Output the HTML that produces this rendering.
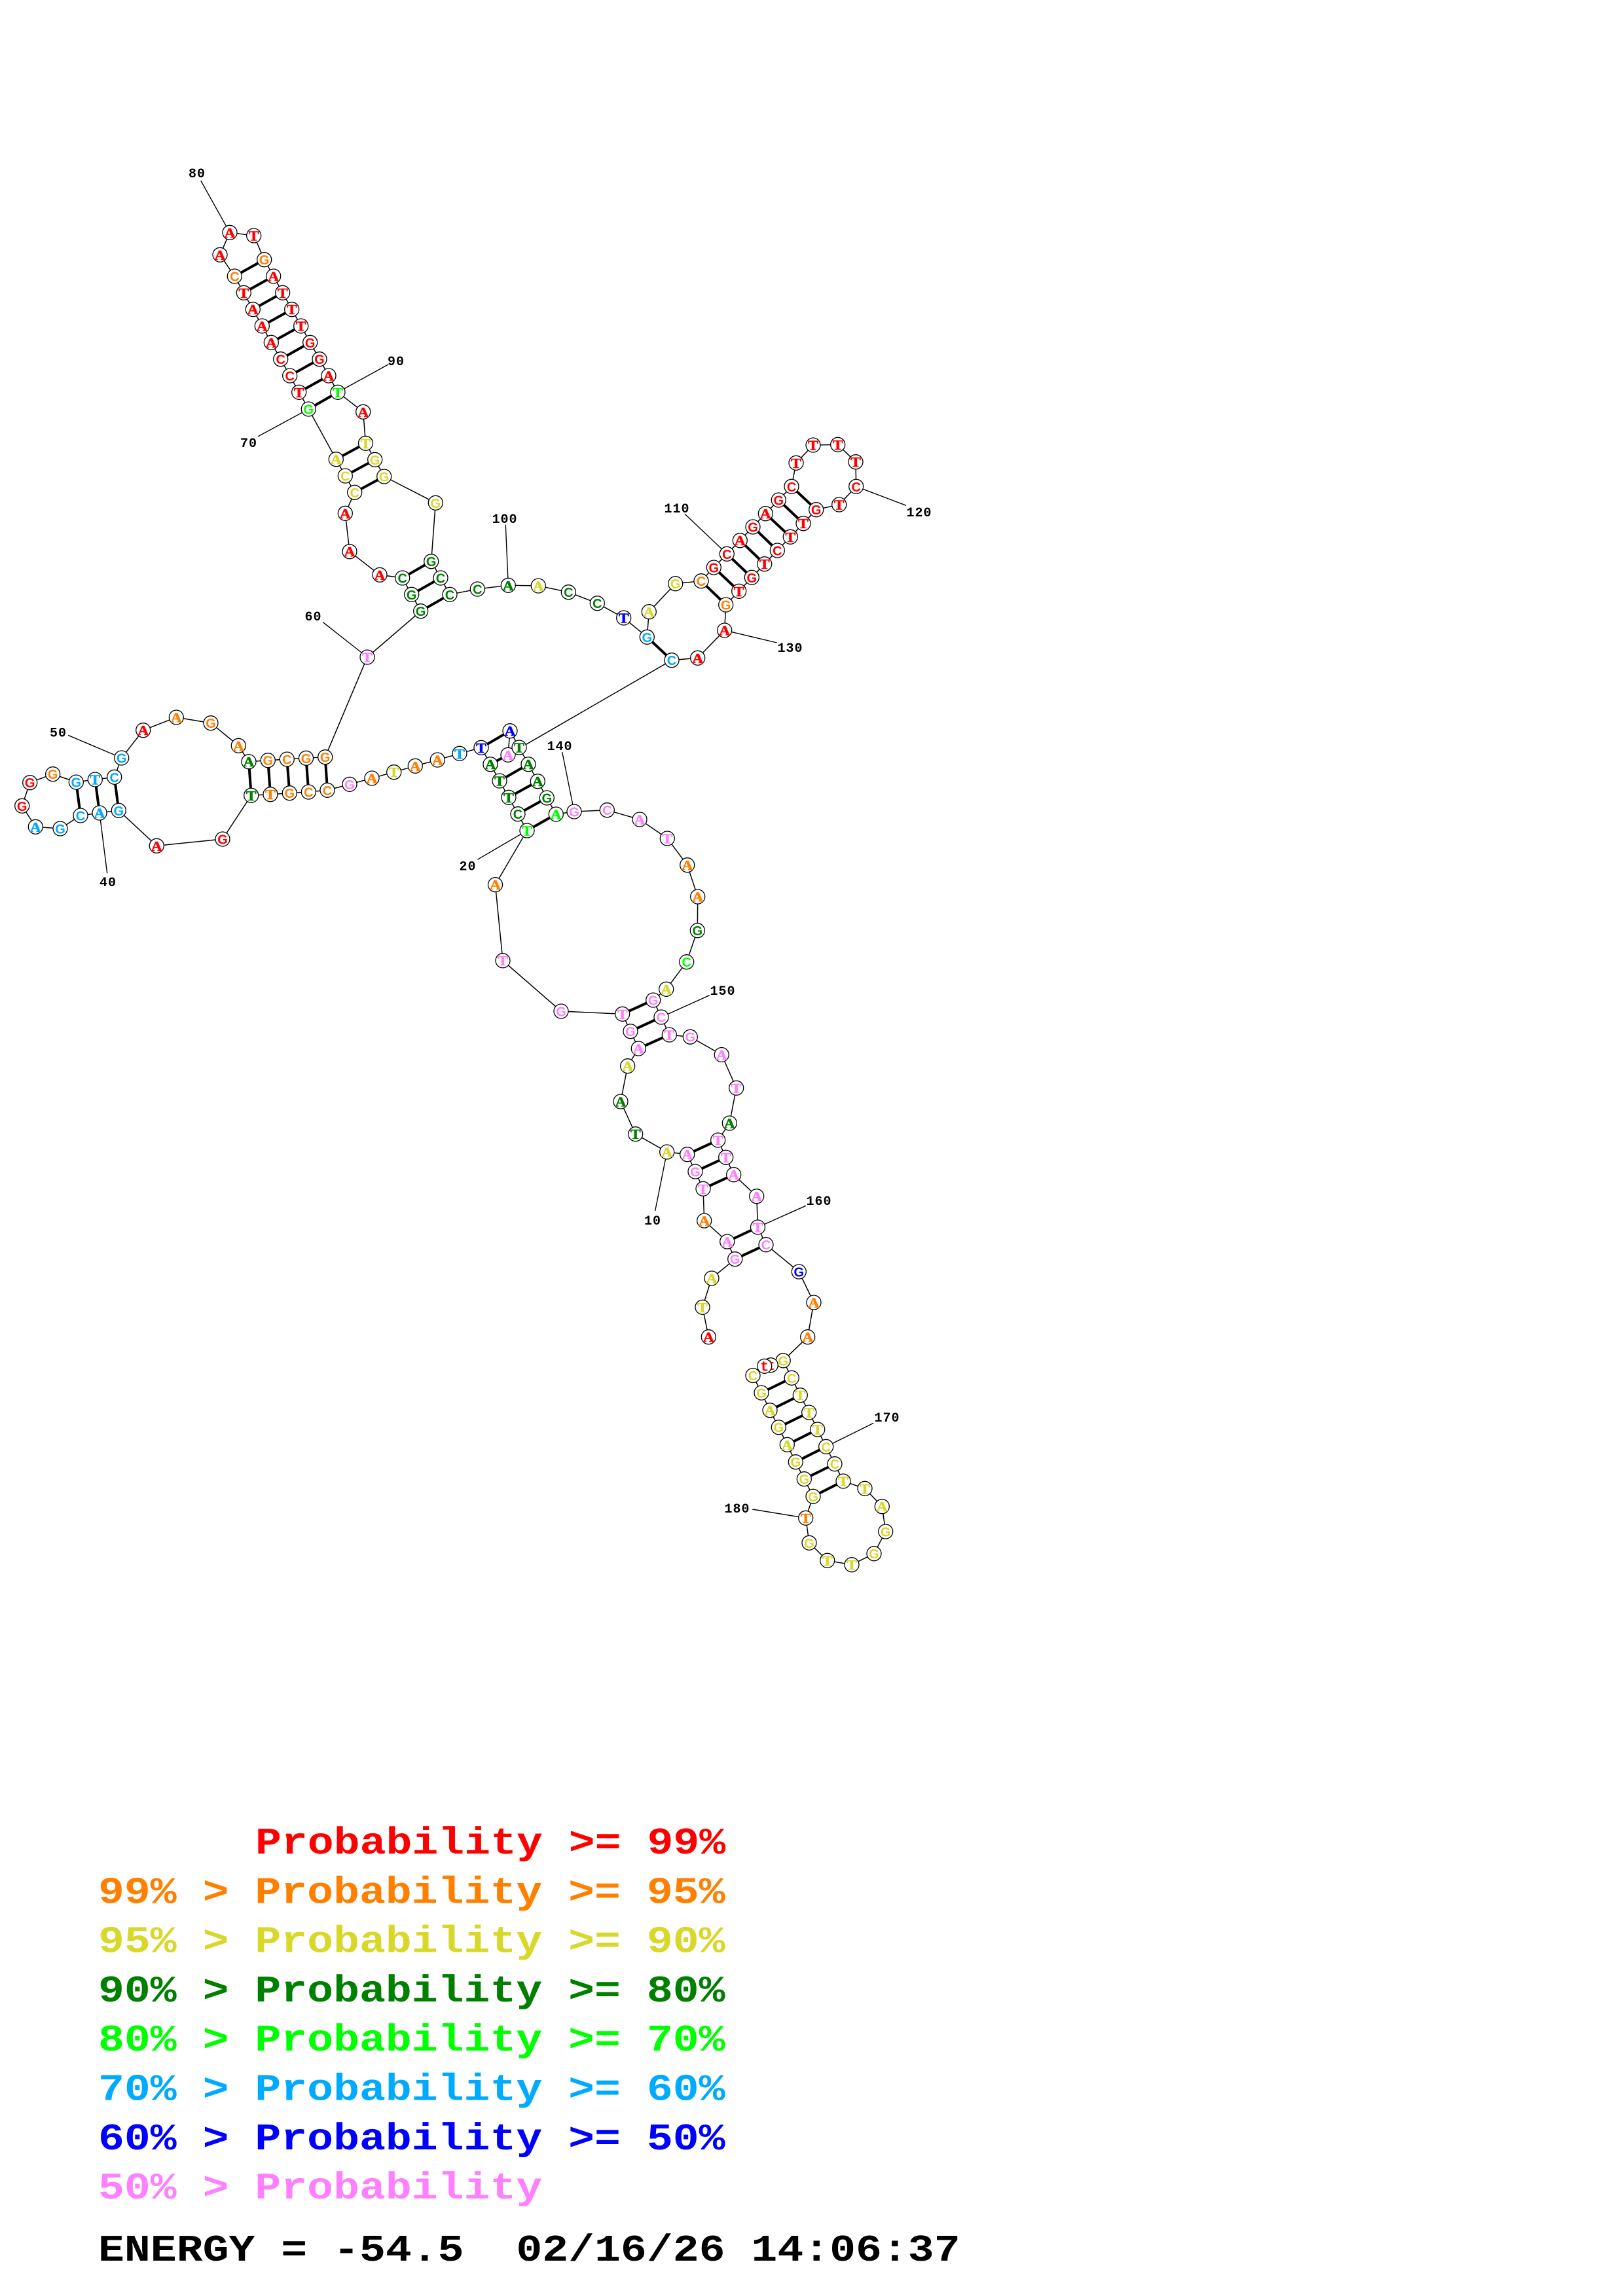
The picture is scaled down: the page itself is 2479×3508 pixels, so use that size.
<!DOCTYPE html>
<html><head><meta charset="utf-8"><title>RNA structure</title>
<style>
html,body{margin:0;padding:0;background:#fff}
svg{display:block}
circle{fill:#fff;stroke:#000;stroke-width:1.3}
.n text,text.l{text-anchor:middle}
.n text{font:bold 21px "Liberation Serif",serif;stroke-width:.6;transform-box:fill-box;transform-origin:center;transform:scaleX(1.12)}
.n text.k{font:bold 20px "Liberation Sans",sans-serif;stroke-width:0;transform:none}
.n text.t{font:bold 22px "Liberation Mono",monospace;stroke-width:0;transform:none}
.r{fill:#f00;stroke:#f00}.o{fill:#ff8000;stroke:#ff8000}.y{fill:#d8d82a;stroke:#d8d82a}.d{fill:#008000;stroke:#008000}.g{fill:#0f0;stroke:#0f0}.n2{fill:#0af;stroke:#0af}.b{fill:#00f;stroke:#00f}.p{fill:#ff80ff;stroke:#ff80ff}.z{fill:#000;stroke:#000}
text.l{font:bold 20px "Liberation Mono",monospace;letter-spacing:1px;fill:#000}
.m text{font:bold 66.5px "Liberation Mono",monospace;white-space:pre;stroke-width:0}
</style></head><body>
<svg xmlns="http://www.w3.org/2000/svg" width="2479" height="3508" viewBox="0 0 2479 3508">
<rect width="2479" height="3508" fill="#fff"/>
<polyline fill="none" stroke="#000" stroke-width="1.5" points="1082.3,2042.7 1073,1997.3 1087,1953 1122.7,1923.7 1110.7,1897 1075.7,1865 1074,1816.3 1062,1790 1049.7,1763.7 1018.7,1760 970.7,1732.7 948,1683 958.7,1628.7 975.3,1602 963,1575.7 950.7,1549.3 857,1545 768,1467.7 756.5,1351.7 805,1269 791,1243.7 777,1218.3 763,1193 749,1167.7 735,1142.3 702,1151.3 668.3,1161 634.3,1170.3 601.7,1179.7 568,1189 534,1198.3 500,1207.3 471.3,1210 442.3,1211.7 413,1213.7 383.7,1215.3 340,1282 239.3,1292.3 181.3,1238.3 152,1242 123,1246 92,1266 54.3,1263.3 33.7,1231.3 45.7,1195.7 80.7,1182.7 116.3,1195 145.3,1191 174.7,1187.3 185.7,1158 218.7,1115.7 269.3,1096 322,1104.7 364.3,1139.3 380,1163.7 409.3,1161.7 438.3,1160 467.5,1158.3 496.7,1156.7 561,1004 642.7,933.7 628.7,908.3 614.7,883 580,878.3 534,842.7 527.3,784.3 541.7,752.3 527.3,727 513.3,701.7 471.3,625 456.7,599.3 442.7,574 428.7,548.7 414.3,523.3 400.3,498 386.3,472.7 372.3,447.3 358.3,422 336,389.3 351,355.3 387.7,360 403.7,396.7 417.7,422 431.7,447.3 445.7,472.7 459.7,498 473.7,523.3 488,548.7 502,574 516,599.3 554.7,629.3 558.5,677.3 572.7,702.3 586.7,728 665.3,768.3 658.7,857.7 673,883 687,908.3 729.3,900 776.3,894.3 822.3,895 868.3,904.7 912.3,921.7 952.7,944 988.3,973.3 991.3,934.7 1031.7,891.7 1071,887.7 1090.3,867 1110.3,846.3 1130.3,825.7 1150,805 1169.3,784.7 1189.3,764 1209,743.3 1216,707.3 1242,680 1279.7,679.3 1307,705.7 1307.7,743.3 1281.7,771 1246.7,778.7 1227,799.7 1207.3,820.3 1187.3,841 1167.7,861.7 1148.3,882.3 1128.7,903.3 1108.7,924 1106.7,963 1065.7,1005.3 1026,1008.7 776,1153.3 779,1116.7 793,1142 807,1167.7 821.3,1193.7 835.3,1219 849.3,1244 877,1240 927.3,1237.7 977,1252 1019.3,1281 1049.7,1321.7 1065.7,1370 1065.3,1421.7 1048.7,1469.7 1017.7,1511.3 997.7,1528 1010,1554 1022.3,1581 1054.3,1584.2 1102.2,1611.5 1124.7,1662.3 1114.3,1716 1096.7,1742 1108.7,1768.3 1120.7,1794.7 1155.7,1827.7 1157.5,1875 1170,1901.7 1220.3,1943 1243,1990 1233.7,2042.7 1196.2,2078.8 1209.2,2105.3 1222.3,2131.7 1235.7,2158 1248.7,2184 1261.7,2210.3 1275,2236.7 1288,2263 1321,2274.3 1347.3,2301.7 1352.7,2340 1335,2373.7 1301,2390.7 1263.7,2384.3 1236,2357.3 1230.7,2319.3 1242,2286.3 1228.3,2259.7 1215.3,2233.7 1202.3,2207.3 1189.3,2180.7 1176,2154.7 1163,2128 1150,2101.5 1177.3,2085.7 1167.7,2087.3"/>
<path fill="none" stroke="#000" stroke-width="4" d="M1122.7 1923.7L1170 1901.7M1110.7 1897L1157.5 1875M1074 1816.3L1120.7 1794.7M1062 1790L1108.7 1768.3M1049.7 1763.7L1096.7 1742M975.3 1602L1022.3 1581M963 1575.7L1010 1554M950.7 1549.3L997.7 1528M805 1269L849.3 1244M791 1243.7L835.3 1219M777 1218.3L821.3 1193.7M763 1193L807 1167.7M749 1167.7L776 1153.3M735 1142.3L779 1116.7M500 1207.3L496.7 1156.7M471.3 1210L467.5 1158.3M442.3 1211.7L438.3 1160M413 1213.7L409.3 1161.7M383.7 1215.3L380 1163.7M181.3 1238.3L174.7 1187.3M152 1242L145.3 1191M123 1246L116.3 1195M642.7 933.7L687 908.3M628.7 908.3L673 883M614.7 883L658.7 857.7M541.7 752.3L586.7 728M527.3 727L572.7 702.3M513.3 701.7L558.5 677.3M471.3 625L516 599.3M456.7 599.3L502 574M442.7 574L488 548.7M428.7 548.7L473.7 523.3M414.3 523.3L459.7 498M400.3 498L445.7 472.7M386.3 472.7L431.7 447.3M372.3 447.3L417.7 422M358.3 422L403.7 396.7M988.3 973.3L1026 1008.7M1071 887.7L1108.7 924M1090.3 867L1128.7 903.3M1110.3 846.3L1148.3 882.3M1130.3 825.7L1167.7 861.7M1150 805L1187.3 841M1169.3 784.7L1207.3 820.3M1189.3 764L1227 799.7M1209 743.3L1246.7 778.7M1209.2 2105.3L1163 2128M1222.3 2131.7L1176 2154.7M1235.7 2158L1189.3 2180.7M1248.7 2184L1202.3 2207.3M1261.7 2210.3L1215.3 2233.7M1275 2236.7L1228.3 2259.7M1288 2263L1242 2286.3"/>
<path fill="none" stroke="#000" stroke-width="1.4" d="M306.7 276L351 355.3M593.3 556.7L516 599.3M394.3 666.7L471.3 625M493.3 950.7L561 1004M772.3 801.7L776.3 894.3M1046 785.3L1110.3 846.3M1384 772.3L1307.7 743.3M1186.7 982L1106.7 963M104 1123.3L185.7 1158M163.7 1334.3L152 1242M729.3 1313.3L805 1269M858.7 1149L877 1240M1083.7 1520.7L1010 1554M1000.7 1850L1018.7 1760M1230.7 1842.3L1157.5 1875M1334.3 2174.3L1261.7 2210.3M1149.3 2306L1230.7 2319.3"/>
<g class="n">
<circle cx="1082.3" cy="2042.7" r="11"/><text x="1082.3" y="2050.2" class="r">A</text>
<circle cx="1073" cy="1997.3" r="11"/><text x="1073" y="2004.8" class="y">T</text>
<circle cx="1087" cy="1953" r="11"/><text x="1087" y="1960.5" class="y">A</text>
<circle cx="1122.7" cy="1923.7" r="11"/><text x="1122.7" y="1931.2" class="p k">G</text>
<circle cx="1110.7" cy="1897" r="11"/><text x="1110.7" y="1904.5" class="p">A</text>
<circle cx="1075.7" cy="1865" r="11"/><text x="1075.7" y="1872.5" class="o">A</text>
<circle cx="1074" cy="1816.3" r="11"/><text x="1074" y="1823.8" class="p">T</text>
<circle cx="1062" cy="1790" r="11"/><text x="1062" y="1797.5" class="p k">G</text>
<circle cx="1049.7" cy="1763.7" r="11"/><text x="1049.7" y="1771.2" class="p">A</text>
<circle cx="1018.7" cy="1760" r="11"/><text x="1018.7" y="1767.5" class="y">A</text>
<circle cx="970.7" cy="1732.7" r="11"/><text x="970.7" y="1740.2" class="d">T</text>
<circle cx="948" cy="1683" r="11"/><text x="948" y="1690.5" class="d">A</text>
<circle cx="958.7" cy="1628.7" r="11"/><text x="958.7" y="1636.2" class="y">A</text>
<circle cx="975.3" cy="1602" r="11"/><text x="975.3" y="1609.5" class="p">A</text>
<circle cx="963" cy="1575.7" r="11"/><text x="963" y="1583.2" class="p k">G</text>
<circle cx="950.7" cy="1549.3" r="11"/><text x="950.7" y="1556.8" class="p">T</text>
<circle cx="857" cy="1545" r="11"/><text x="857" y="1552.5" class="p k">G</text>
<circle cx="768" cy="1467.7" r="11"/><text x="768" y="1475.2" class="p">T</text>
<circle cx="756.5" cy="1351.7" r="11"/><text x="756.5" y="1359.2" class="o">A</text>
<circle cx="805" cy="1269" r="11"/><text x="805" y="1276.5" class="g">T</text>
<circle cx="791" cy="1243.7" r="11"/><text x="791" y="1251.2" class="d k">C</text>
<circle cx="777" cy="1218.3" r="11"/><text x="777" y="1225.8" class="d">T</text>
<circle cx="763" cy="1193" r="11"/><text x="763" y="1200.5" class="d">T</text>
<circle cx="749" cy="1167.7" r="11"/><text x="749" y="1175.2" class="d">A</text>
<circle cx="735" cy="1142.3" r="11"/><text x="735" y="1149.8" class="b">T</text>
<circle cx="702" cy="1151.3" r="11"/><text x="702" y="1158.8" class="n2">T</text>
<circle cx="668.3" cy="1161" r="11"/><text x="668.3" y="1168.5" class="o">A</text>
<circle cx="634.3" cy="1170.3" r="11"/><text x="634.3" y="1177.8" class="o">A</text>
<circle cx="601.7" cy="1179.7" r="11"/><text x="601.7" y="1187.2" class="y">T</text>
<circle cx="568" cy="1189" r="11"/><text x="568" y="1196.5" class="o">A</text>
<circle cx="534" cy="1198.3" r="11"/><text x="534" y="1205.8" class="p k">G</text>
<circle cx="500" cy="1207.3" r="11"/><text x="500" y="1214.8" class="o k">C</text>
<circle cx="471.3" cy="1210" r="11"/><text x="471.3" y="1217.5" class="o k">C</text>
<circle cx="442.3" cy="1211.7" r="11"/><text x="442.3" y="1219.2" class="o k">G</text>
<circle cx="413" cy="1213.7" r="11"/><text x="413" y="1221.2" class="o">T</text>
<circle cx="383.7" cy="1215.3" r="11"/><text x="383.7" y="1222.8" class="d">T</text>
<circle cx="340" cy="1282" r="11"/><text x="340" y="1289.5" class="r k">G</text>
<circle cx="239.3" cy="1292.3" r="11"/><text x="239.3" y="1299.8" class="r">A</text>
<circle cx="181.3" cy="1238.3" r="11"/><text x="181.3" y="1245.8" class="n2 k">G</text>
<circle cx="152" cy="1242" r="11"/><text x="152" y="1249.5" class="n2">A</text>
<circle cx="123" cy="1246" r="11"/><text x="123" y="1253.5" class="n2 k">C</text>
<circle cx="92" cy="1266" r="11"/><text x="92" y="1273.5" class="n2 k">G</text>
<circle cx="54.3" cy="1263.3" r="11"/><text x="54.3" y="1270.8" class="n2">A</text>
<circle cx="33.7" cy="1231.3" r="11"/><text x="33.7" y="1238.8" class="r k">G</text>
<circle cx="45.7" cy="1195.7" r="11"/><text x="45.7" y="1203.2" class="r k">G</text>
<circle cx="80.7" cy="1182.7" r="11"/><text x="80.7" y="1190.2" class="o k">G</text>
<circle cx="116.3" cy="1195" r="11"/><text x="116.3" y="1202.5" class="n2 k">G</text>
<circle cx="145.3" cy="1191" r="11"/><text x="145.3" y="1198.5" class="n2">T</text>
<circle cx="174.7" cy="1187.3" r="11"/><text x="174.7" y="1194.8" class="n2 k">C</text>
<circle cx="185.7" cy="1158" r="11"/><text x="185.7" y="1165.5" class="n2 k">G</text>
<circle cx="218.7" cy="1115.7" r="11"/><text x="218.7" y="1123.2" class="r">A</text>
<circle cx="269.3" cy="1096" r="11"/><text x="269.3" y="1103.5" class="o">A</text>
<circle cx="322" cy="1104.7" r="11"/><text x="322" y="1112.2" class="o k">G</text>
<circle cx="364.3" cy="1139.3" r="11"/><text x="364.3" y="1146.8" class="o">A</text>
<circle cx="380" cy="1163.7" r="11"/><text x="380" y="1171.2" class="d">A</text>
<circle cx="409.3" cy="1161.7" r="11"/><text x="409.3" y="1169.2" class="o k">G</text>
<circle cx="438.3" cy="1160" r="11"/><text x="438.3" y="1167.5" class="o k">C</text>
<circle cx="467.5" cy="1158.3" r="11"/><text x="467.5" y="1165.8" class="o k">G</text>
<circle cx="496.7" cy="1156.7" r="11"/><text x="496.7" y="1164.2" class="o k">G</text>
<circle cx="561" cy="1004" r="11"/><text x="561" y="1011.5" class="p">T</text>
<circle cx="642.7" cy="933.7" r="11"/><text x="642.7" y="941.2" class="d k">G</text>
<circle cx="628.7" cy="908.3" r="11"/><text x="628.7" y="915.8" class="d k">G</text>
<circle cx="614.7" cy="883" r="11"/><text x="614.7" y="890.5" class="d k">C</text>
<circle cx="580" cy="878.3" r="11"/><text x="580" y="885.8" class="r">A</text>
<circle cx="534" cy="842.7" r="11"/><text x="534" y="850.2" class="r">A</text>
<circle cx="527.3" cy="784.3" r="11"/><text x="527.3" y="791.8" class="r">A</text>
<circle cx="541.7" cy="752.3" r="11"/><text x="541.7" y="759.8" class="y k">C</text>
<circle cx="527.3" cy="727" r="11"/><text x="527.3" y="734.5" class="y k">C</text>
<circle cx="513.3" cy="701.7" r="11"/><text x="513.3" y="709.2" class="y">A</text>
<circle cx="471.3" cy="625" r="11"/><text x="471.3" y="632.5" class="g k">G</text>
<circle cx="456.7" cy="599.3" r="11"/><text x="456.7" y="606.8" class="r">T</text>
<circle cx="442.7" cy="574" r="11"/><text x="442.7" y="581.5" class="r k">C</text>
<circle cx="428.7" cy="548.7" r="11"/><text x="428.7" y="556.2" class="r k">C</text>
<circle cx="414.3" cy="523.3" r="11"/><text x="414.3" y="530.8" class="r">A</text>
<circle cx="400.3" cy="498" r="11"/><text x="400.3" y="505.5" class="r">A</text>
<circle cx="386.3" cy="472.7" r="11"/><text x="386.3" y="480.2" class="r">A</text>
<circle cx="372.3" cy="447.3" r="11"/><text x="372.3" y="454.8" class="r">T</text>
<circle cx="358.3" cy="422" r="11"/><text x="358.3" y="429.5" class="o k">C</text>
<circle cx="336" cy="389.3" r="11"/><text x="336" y="396.8" class="r">A</text>
<circle cx="351" cy="355.3" r="11"/><text x="351" y="362.8" class="r">A</text>
<circle cx="387.7" cy="360" r="11"/><text x="387.7" y="367.5" class="r">T</text>
<circle cx="403.7" cy="396.7" r="11"/><text x="403.7" y="404.2" class="o k">G</text>
<circle cx="417.7" cy="422" r="11"/><text x="417.7" y="429.5" class="r">A</text>
<circle cx="431.7" cy="447.3" r="11"/><text x="431.7" y="454.8" class="r">T</text>
<circle cx="445.7" cy="472.7" r="11"/><text x="445.7" y="480.2" class="r">T</text>
<circle cx="459.7" cy="498" r="11"/><text x="459.7" y="505.5" class="r">T</text>
<circle cx="473.7" cy="523.3" r="11"/><text x="473.7" y="530.8" class="r k">G</text>
<circle cx="488" cy="548.7" r="11"/><text x="488" y="556.2" class="r k">G</text>
<circle cx="502" cy="574" r="11"/><text x="502" y="581.5" class="r">A</text>
<circle cx="516" cy="599.3" r="11"/><text x="516" y="606.8" class="g">T</text>
<circle cx="554.7" cy="629.3" r="11"/><text x="554.7" y="636.8" class="r">A</text>
<circle cx="558.5" cy="677.3" r="11"/><text x="558.5" y="684.8" class="y">T</text>
<circle cx="572.7" cy="702.3" r="11"/><text x="572.7" y="709.8" class="y k">G</text>
<circle cx="586.7" cy="728" r="11"/><text x="586.7" y="735.5" class="y k">G</text>
<circle cx="665.3" cy="768.3" r="11"/><text x="665.3" y="775.8" class="y k">G</text>
<circle cx="658.7" cy="857.7" r="11"/><text x="658.7" y="865.2" class="d k">G</text>
<circle cx="673" cy="883" r="11"/><text x="673" y="890.5" class="d k">C</text>
<circle cx="687" cy="908.3" r="11"/><text x="687" y="915.8" class="d k">C</text>
<circle cx="729.3" cy="900" r="11"/><text x="729.3" y="907.5" class="d k">C</text>
<circle cx="776.3" cy="894.3" r="11"/><text x="776.3" y="901.8" class="d">A</text>
<circle cx="822.3" cy="895" r="11"/><text x="822.3" y="902.5" class="y">A</text>
<circle cx="868.3" cy="904.7" r="11"/><text x="868.3" y="912.2" class="d k">C</text>
<circle cx="912.3" cy="921.7" r="11"/><text x="912.3" y="929.2" class="d k">C</text>
<circle cx="952.7" cy="944" r="11"/><text x="952.7" y="951.5" class="b">T</text>
<circle cx="988.3" cy="973.3" r="11"/><text x="988.3" y="980.8" class="n2 k">G</text>
<circle cx="991.3" cy="934.7" r="11"/><text x="991.3" y="942.2" class="y">A</text>
<circle cx="1031.7" cy="891.7" r="11"/><text x="1031.7" y="899.2" class="y k">G</text>
<circle cx="1071" cy="887.7" r="11"/><text x="1071" y="895.2" class="o k">C</text>
<circle cx="1090.3" cy="867" r="11"/><text x="1090.3" y="874.5" class="r k">G</text>
<circle cx="1110.3" cy="846.3" r="11"/><text x="1110.3" y="853.8" class="r k">C</text>
<circle cx="1130.3" cy="825.7" r="11"/><text x="1130.3" y="833.2" class="r">A</text>
<circle cx="1150" cy="805" r="11"/><text x="1150" y="812.5" class="r k">G</text>
<circle cx="1169.3" cy="784.7" r="11"/><text x="1169.3" y="792.2" class="r">A</text>
<circle cx="1189.3" cy="764" r="11"/><text x="1189.3" y="771.5" class="r k">G</text>
<circle cx="1209" cy="743.3" r="11"/><text x="1209" y="750.8" class="r k">C</text>
<circle cx="1216" cy="707.3" r="11"/><text x="1216" y="714.8" class="r">T</text>
<circle cx="1242" cy="680" r="11"/><text x="1242" y="687.5" class="r">T</text>
<circle cx="1279.7" cy="679.3" r="11"/><text x="1279.7" y="686.8" class="r">T</text>
<circle cx="1307" cy="705.7" r="11"/><text x="1307" y="713.2" class="r">T</text>
<circle cx="1307.7" cy="743.3" r="11"/><text x="1307.7" y="750.8" class="r k">C</text>
<circle cx="1281.7" cy="771" r="11"/><text x="1281.7" y="778.5" class="r">T</text>
<circle cx="1246.7" cy="778.7" r="11"/><text x="1246.7" y="786.2" class="r k">G</text>
<circle cx="1227" cy="799.7" r="11"/><text x="1227" y="807.2" class="r">T</text>
<circle cx="1207.3" cy="820.3" r="11"/><text x="1207.3" y="827.8" class="r">T</text>
<circle cx="1187.3" cy="841" r="11"/><text x="1187.3" y="848.5" class="r k">C</text>
<circle cx="1167.7" cy="861.7" r="11"/><text x="1167.7" y="869.2" class="r">T</text>
<circle cx="1148.3" cy="882.3" r="11"/><text x="1148.3" y="889.8" class="r k">G</text>
<circle cx="1128.7" cy="903.3" r="11"/><text x="1128.7" y="910.8" class="r">T</text>
<circle cx="1108.7" cy="924" r="11"/><text x="1108.7" y="931.5" class="o k">G</text>
<circle cx="1106.7" cy="963" r="11"/><text x="1106.7" y="970.5" class="r">A</text>
<circle cx="1065.7" cy="1005.3" r="11"/><text x="1065.7" y="1012.8" class="r">A</text>
<circle cx="1026" cy="1008.7" r="11"/><text x="1026" y="1016.2" class="n2 k">C</text>
<circle cx="776" cy="1153.3" r="11"/><text x="776" y="1160.8" class="p">A</text>
<circle cx="779" cy="1116.7" r="11"/><text x="779" y="1124.2" class="b">A</text>
<circle cx="793" cy="1142" r="11"/><text x="793" y="1149.5" class="d">T</text>
<circle cx="807" cy="1167.7" r="11"/><text x="807" y="1175.2" class="d">A</text>
<circle cx="821.3" cy="1193.7" r="11"/><text x="821.3" y="1201.2" class="d">A</text>
<circle cx="835.3" cy="1219" r="11"/><text x="835.3" y="1226.5" class="d k">G</text>
<circle cx="849.3" cy="1244" r="11"/><text x="849.3" y="1251.5" class="g">A</text>
<circle cx="877" cy="1240" r="11"/><text x="877" y="1247.5" class="p k">G</text>
<circle cx="927.3" cy="1237.7" r="11"/><text x="927.3" y="1245.2" class="p k">C</text>
<circle cx="977" cy="1252" r="11"/><text x="977" y="1259.5" class="p">A</text>
<circle cx="1019.3" cy="1281" r="11"/><text x="1019.3" y="1288.5" class="p">T</text>
<circle cx="1049.7" cy="1321.7" r="11"/><text x="1049.7" y="1329.2" class="o">A</text>
<circle cx="1065.7" cy="1370" r="11"/><text x="1065.7" y="1377.5" class="o">A</text>
<circle cx="1065.3" cy="1421.7" r="11"/><text x="1065.3" y="1429.2" class="d k">G</text>
<circle cx="1048.7" cy="1469.7" r="11"/><text x="1048.7" y="1477.2" class="g k">C</text>
<circle cx="1017.7" cy="1511.3" r="11"/><text x="1017.7" y="1518.8" class="y">A</text>
<circle cx="997.7" cy="1528" r="11"/><text x="997.7" y="1535.5" class="p k">G</text>
<circle cx="1010" cy="1554" r="11"/><text x="1010" y="1561.5" class="p k">C</text>
<circle cx="1022.3" cy="1581" r="11"/><text x="1022.3" y="1588.5" class="p">T</text>
<circle cx="1054.3" cy="1584.2" r="11"/><text x="1054.3" y="1591.7" class="p k">G</text>
<circle cx="1102.2" cy="1611.5" r="11"/><text x="1102.2" y="1619" class="p">A</text>
<circle cx="1124.7" cy="1662.3" r="11"/><text x="1124.7" y="1669.8" class="p">T</text>
<circle cx="1114.3" cy="1716" r="11"/><text x="1114.3" y="1723.5" class="d">A</text>
<circle cx="1096.7" cy="1742" r="11"/><text x="1096.7" y="1749.5" class="p">T</text>
<circle cx="1108.7" cy="1768.3" r="11"/><text x="1108.7" y="1775.8" class="p">T</text>
<circle cx="1120.7" cy="1794.7" r="11"/><text x="1120.7" y="1802.2" class="p">A</text>
<circle cx="1155.7" cy="1827.7" r="11"/><text x="1155.7" y="1835.2" class="p">A</text>
<circle cx="1157.5" cy="1875" r="11"/><text x="1157.5" y="1882.5" class="p">T</text>
<circle cx="1170" cy="1901.7" r="11"/><text x="1170" y="1909.2" class="p k">C</text>
<circle cx="1220.3" cy="1943" r="11"/><text x="1220.3" y="1950.5" class="b k">G</text>
<circle cx="1243" cy="1990" r="11"/><text x="1243" y="1997.5" class="o">A</text>
<circle cx="1233.7" cy="2042.7" r="11"/><text x="1233.7" y="2050.2" class="o">A</text>
<circle cx="1196.2" cy="2078.8" r="11"/><text x="1196.2" y="2086.3" class="y k">G</text>
<circle cx="1209.2" cy="2105.3" r="11"/><text x="1209.2" y="2112.8" class="y k">C</text>
<circle cx="1222.3" cy="2131.7" r="11"/><text x="1222.3" y="2139.2" class="y">T</text>
<circle cx="1235.7" cy="2158" r="11"/><text x="1235.7" y="2165.5" class="y">T</text>
<circle cx="1248.7" cy="2184" r="11"/><text x="1248.7" y="2191.5" class="y">T</text>
<circle cx="1261.7" cy="2210.3" r="11"/><text x="1261.7" y="2217.8" class="y k">C</text>
<circle cx="1275" cy="2236.7" r="11"/><text x="1275" y="2244.2" class="y k">C</text>
<circle cx="1288" cy="2263" r="11"/><text x="1288" y="2270.5" class="y">T</text>
<circle cx="1321" cy="2274.3" r="11"/><text x="1321" y="2281.8" class="y">T</text>
<circle cx="1347.3" cy="2301.7" r="11"/><text x="1347.3" y="2309.2" class="y">A</text>
<circle cx="1352.7" cy="2340" r="11"/><text x="1352.7" y="2347.5" class="y k">G</text>
<circle cx="1335" cy="2373.7" r="11"/><text x="1335" y="2381.2" class="y k">G</text>
<circle cx="1301" cy="2390.7" r="11"/><text x="1301" y="2398.2" class="y">T</text>
<circle cx="1263.7" cy="2384.3" r="11"/><text x="1263.7" y="2391.8" class="y">T</text>
<circle cx="1236" cy="2357.3" r="11"/><text x="1236" y="2364.8" class="y k">G</text>
<circle cx="1230.7" cy="2319.3" r="11"/><text x="1230.7" y="2326.8" class="o">T</text>
<circle cx="1242" cy="2286.3" r="11"/><text x="1242" y="2293.8" class="y k">G</text>
<circle cx="1228.3" cy="2259.7" r="11"/><text x="1228.3" y="2267.2" class="y k">G</text>
<circle cx="1215.3" cy="2233.7" r="11"/><text x="1215.3" y="2241.2" class="y k">G</text>
<circle cx="1202.3" cy="2207.3" r="11"/><text x="1202.3" y="2214.8" class="y">A</text>
<circle cx="1189.3" cy="2180.7" r="11"/><text x="1189.3" y="2188.2" class="y k">G</text>
<circle cx="1176" cy="2154.7" r="11"/><text x="1176" y="2162.2" class="y">A</text>
<circle cx="1163" cy="2128" r="11"/><text x="1163" y="2135.5" class="y k">G</text>
<circle cx="1150" cy="2101.5" r="11"/><text x="1150" y="2109" class="y k">C</text>
<circle cx="1177.3" cy="2085.7" r="11"/><text x="1177.3" y="2093" class="r t">t</text>
<circle cx="1167.7" cy="2087.3" r="11"/><text x="1167.7" y="2094.5" class="r t">t</text>
</g>
<text class="l" x="301" y="271">80</text>
<text class="l" x="605" y="558">90</text>
<text class="l" x="380" y="683">70</text>
<text class="l" x="478.5" y="948">60</text>
<text class="l" x="771" y="799">100</text>
<text class="l" x="1034" y="783">110</text>
<text class="l" x="1404" y="789">120</text>
<text class="l" x="1207" y="996">130</text>
<text class="l" x="89" y="1125.5">50</text>
<text class="l" x="165" y="1354">40</text>
<text class="l" x="714.5" y="1329.5">20</text>
<text class="l" x="855" y="1146">140</text>
<text class="l" x="1104" y="1520">150</text>
<text class="l" x="997" y="1871">10</text>
<text class="l" x="1251" y="1841">160</text>
<text class="l" x="1355" y="2172">170</text>
<text class="l" x="1126" y="2311">180</text>
<g class="m">
<text class="r" transform="translate(390,2832) scale(1,.87)">Probability &gt;= 99%</text>
<text class="o" transform="translate(150,2907.3) scale(1,.87)">99% &gt; Probability &gt;= 95%</text>
<text class="y" transform="translate(150,2982.6) scale(1,.87)">95% &gt; Probability &gt;= 90%</text>
<text class="d" transform="translate(150,3057.9) scale(1,.87)">90% &gt; Probability &gt;= 80%</text>
<text class="g" transform="translate(150,3133.2) scale(1,.87)">80% &gt; Probability &gt;= 70%</text>
<text class="n2" transform="translate(150,3208.5) scale(1,.87)">70% &gt; Probability &gt;= 60%</text>
<text class="b" transform="translate(150,3283.8) scale(1,.87)">60% &gt; Probability &gt;= 50%</text>
<text class="p" transform="translate(150,3359.1) scale(1,.87)">50% &gt; Probability</text>
<text class="z" transform="translate(150,3454) scale(1,.87)">ENERGY = -54.5  02/16/26 14:06:37</text>
</g>
</svg>
</body></html>
